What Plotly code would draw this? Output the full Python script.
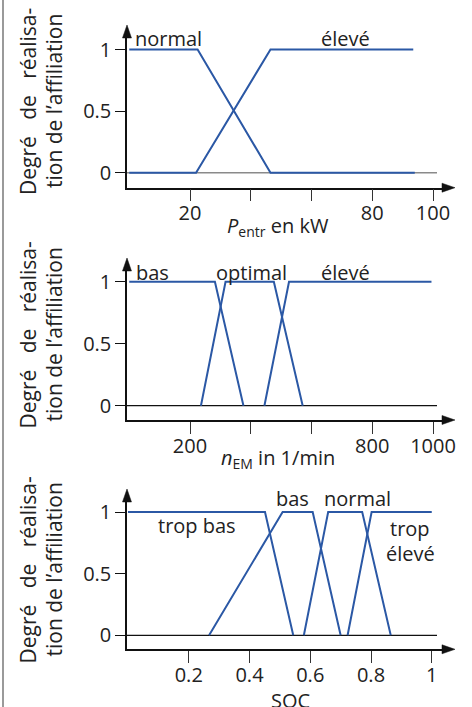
import plotly.graph_objects as go

W, H = 472, 707
BLUE = "#2b58a5"
FONT = "Open Sans"

# ---------------- data ----------------
p_ticks = [20, 80, 100]
p_ticktext = ["20", "80", "100"]
p_minor = [40, 60]
p_normal_x = [0, 22.5, 46.5, 94]
p_normal_y = [1, 1, 0, 0]
p_eleve_x = [0, 22, 46.5, 93.5]
p_eleve_y = [0, 0, 1, 1]

n_ticks = [200, 800, 1000]
n_ticktext = ["200", "800", "1000"]
n_minor = [400, 600]
n_bas_x = [0, 282, 376]
n_bas_y = [1, 1, 0]
n_opt_x = [236, 317, 476, 571]
n_opt_y = [0, 1, 1, 0]
n_eleve_x = [445, 526, 995]
n_eleve_y = [0, 1, 1]

s_ticks = [0.2, 0.4, 0.6, 0.8, 1.0]
s_ticktext = ["0.2", "0.4", "0.6", "0.8", "1"]
s_minor = []
s_tropbas_x = [0, 0.451, 0.544]
s_tropbas_y = [1, 1, 0]
s_bas_x = [0.267, 0.509, 0.608, 0.700]
s_bas_y = [0, 1, 1, 0]
s_normal_x = [0.579, 0.659, 0.771, 0.865]
s_normal_y = [0, 1, 1, 0]
s_tropeleve_x = [0.723, 0.802, 1.0]
s_tropeleve_y = [0, 1, 1]

y_ticks = [0, 0.5, 1]
y_ticktext = ["0", "0.5", "1"]


def px_x(p):
    return p / W


def px_y(p):
    return 1 - p / H


# panel geometry in pixels: x0px (data 0), scale px/unit, y1px, y0px, bottom, top
panels = [
    dict(x0=129.25, sc=3.0375, y1=49.5, y0=172.7, bot=187.7, top=25,
         ticks=p_ticks, tt=p_ticktext, minor=p_minor, zero="#8a8a8a",
         series=[(p_normal_x, p_normal_y), (p_eleve_x, p_eleve_y)]),
    dict(x0=129.25, sc=0.30375, y1=281.7, y0=405.7, bot=420, top=258,
         ticks=n_ticks, tt=n_ticktext, minor=n_minor, zero="#111111",
         series=[(n_bas_x, n_bas_y), (n_opt_x, n_opt_y), (n_eleve_x, n_eleve_y)]),
    dict(x0=128, sc=303.75, y1=512, y0=635.3, bot=649.3, top=489,
         ticks=s_ticks, tt=s_ticktext, minor=s_minor, zero="#111111",
         series=[(s_tropbas_x, s_tropbas_y), (s_bas_x, s_bas_y),
                 (s_normal_x, s_normal_y), (s_tropeleve_x, s_tropeleve_y)]),
]

AX_L, AX_R = 127, 455

fig = go.Figure()
layout = dict(
    width=W, height=H, margin=dict(l=0, r=0, t=0, b=0, autoexpand=False),
    paper_bgcolor="white", plot_bgcolor="white", showlegend=False,
    font=dict(family=FONT, size=20, color="#222222"),
)
shapes = []
annotations = []


def tri(pts):
    d = "M " + " L ".join(f"{px_x(a):.5f},{px_y(b):.5f}" for a, b in pts) + " Z"
    return dict(type="path", xref="paper", yref="paper", path=d,
                fillcolor="#111111", line=dict(color="#111111", width=0.5))


for i, p in enumerate(panels):
    k = "" if i == 0 else str(i + 1)
    xa, ya = "x" + k, "y" + k
    xr = [(AX_L - p["x0"]) / p["sc"], (AX_R - 10 - p["x0"]) / p["sc"]]
    ppu = p["y0"] - p["y1"]
    yr = [-(p["bot"] - p["y0"]) / ppu, 1 + (p["y1"] - p["top"] - 10) / ppu]
    xaxis = dict(
        domain=[px_x(AX_L), px_x(AX_R - 10)], range=xr, anchor=ya,
        showgrid=False, zeroline=False, showline=True, linecolor="#111111", linewidth=1.5,
        ticks="outside", ticklen=12, tickwidth=1.3, tickcolor="#333333",
        tickvals=p["ticks"], ticktext=p["tt"], tickfont=dict(size=20, color="#222222"),
        ticklabelstandoff=-5,
        automargin=False, fixedrange=True,
    )
    if p["minor"]:
        xaxis["minor"] = dict(tickvals=p["minor"], ticks="outside", ticklen=12,
                              tickwidth=1.3, tickcolor="#333333", showgrid=False)
    layout["xaxis" + k] = xaxis
    layout["yaxis" + k] = dict(
        domain=[px_y(p["bot"]), px_y(p["top"] + 10)], range=yr, anchor=xa,
        showgrid=False, zeroline=False, showline=True, linecolor="#111111", linewidth=1.5,
        ticks="outside", ticklen=10, tickwidth=1.3, tickcolor="#111111",
        tickvals=y_ticks, ticktext=y_ticktext, tickfont=dict(size=20, color="#222222"),
        automargin=False, fixedrange=True,
    )
    # zero reference line
    shapes.append(dict(type="line", xref=xa, yref=ya, layer="below",
                       x0=xr[0], x1=(437 - p["x0"]) / p["sc"], y0=0, y1=0,
                       line=dict(color=p["zero"], width=1.5 if i == 0 else 1.2)))
    for sx, sy in p["series"]:
        fig.add_trace(go.Scatter(x=sx, y=sy, mode="lines", xaxis=xa, yaxis=ya,
                                 line=dict(color=BLUE, width=2), hoverinfo="skip",
                                 cliponaxis=False))
    # arrowheads
    b = p["bot"]
    shapes.append(tri([(AX_R, b), (AX_R - 13, b - 4.5), (AX_R - 13, b + 4.5)]))
    t = p["top"]
    shapes.append(tri([(AX_L, t), (AX_L - 4.5, t + 13), (AX_L + 4.5, t + 13)]))


def label(text, cx, cy, size=20, angle=0):
    annotations.append(dict(xref="paper", yref="paper", x=px_x(cx), y=px_y(cy),
                            xanchor="center", yanchor="middle", text=text,
                            showarrow=False, textangle=angle,
                            font=dict(family=FONT, size=size, color="#222222")))


# curve labels
label("normal", 168.5, 38.5)
label("élevé", 345, 38.5)
label("bas", 152, 272)
label("optimal", 251, 272)
label("élevé", 345, 272)
label("bas", 292, 498.5)
label("normal", 357, 498.5)
label("trop bas", 197, 525.5)
label("trop", 410, 528.5)
label("élevé", 410, 553.5)

# x titles
label("<i>P</i><sub>entr</sub> en kW", 277.5, 226.5)
label("<i>n</i><sub>EM</sub> in 1/min", 278, 458.5)
label("SOC", 290, 700)

# y titles
NB = "\u00a0"
line1 = "Degré" + NB * 3 + "de" + NB * 3 + "réalisa-"
line2 = "tion de l\u2019affiliation"
for cy in [101.5, 335, 570]:
    label(line1, 27.5, cy, size=21, angle=-90)
    label(line2, 53.5, cy, size=21, angle=-90)

# left border
shapes.append(dict(type="line", xref="paper", yref="paper", x0=px_x(3), x1=px_x(3),
                   y0=0, y1=1, line=dict(color="#9a9a9a", width=2)))

layout["shapes"] = shapes
layout["annotations"] = annotations
fig.update_layout(**layout)
fig.write_html("out.html", config={"displayModeBar": False},
               post_script="document.body.style.margin='0';document.body.style.overflow='hidden';")
